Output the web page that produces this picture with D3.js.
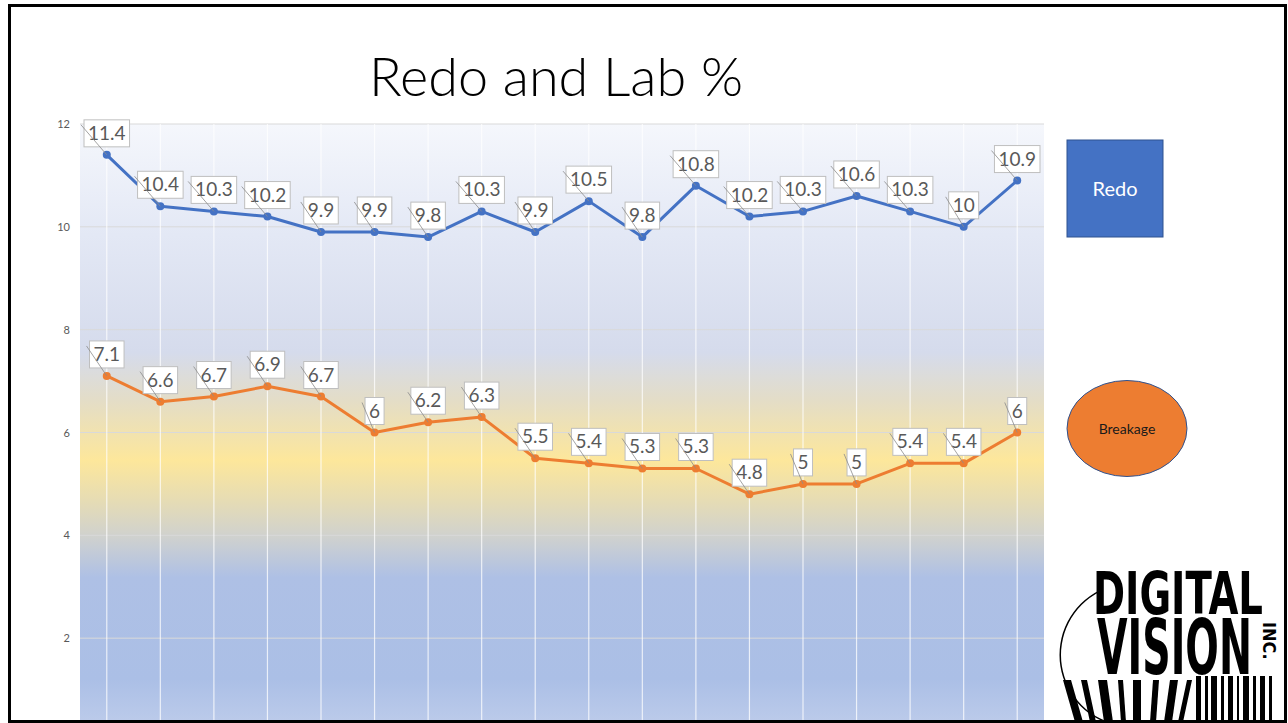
<!DOCTYPE html>
<html>
<head>
<meta charset="utf-8">
<script src="https://cdn.jsdelivr.net/npm/d3@7"></script>
<style>
  html, body { margin: 0; padding: 0; background: #fff; }
  svg { display: block; }
</style>
</head>
<body>
<div id="chart"></div>
<script>
// data
const categories = ['1', '2', '3', '4', '5', '6', '7', '8', '9', '10', '11', '12', '13', '14', '15', '16', '17', '18'];
const redo = [11.4, 10.4, 10.3, 10.2, 9.9, 9.9, 9.8, 10.3, 9.9, 10.5, 9.8, 10.8, 10.2, 10.3, 10.6, 10.3, 10, 10.9];
const breakage = [7.1, 6.6, 6.7, 6.9, 6.7, 6, 6.2, 6.3, 5.5, 5.4, 5.3, 5.3, 4.8, 5, 5, 5.4, 5.4, 6];
const yTicks = [2, 4, 6, 8, 10, 12];
const seriesNames = ['Redo', 'Breakage'];

const W = 1288, H = 723;
const plot = { left: 80, right: 1044, top: 124, bottom: 741 };

const svg = d3.select('#chart').append('svg')
  .attr('width', W).attr('height', H);

const x = d3.scalePoint()
  .domain(categories)
  .range([plot.left, plot.right])
  .padding(0.5);

const y = d3.scaleLinear()
  .domain([0, 12])
  .range([plot.bottom, plot.top]);

// background gradient of the plot area
const defs = svg.append('defs');
const grad = defs.append('linearGradient')
  .attr('id', 'bg').attr('x1', 0).attr('y1', 0).attr('x2', 0).attr('y2', 1);
[
  [0, '#f5f7fc'], [0.18, '#e3e8f5'], [0.37, '#d5dbec'], [0.45, '#e4ddc6'],
  [0.545, '#fde79b'], [0.61, '#e6dcb4'], [0.67, '#cfd1cf'], [0.735, '#aec0e5'],
  [0.9, '#abbfe6'], [1, '#c3d0ec']
].forEach(s => grad.append('stop').attr('offset', s[0]).attr('stop-color', s[1]));

svg.append('rect')
  .attr('x', plot.left).attr('y', plot.top)
  .attr('width', plot.right - plot.left).attr('height', plot.bottom - plot.top)
  .attr('fill', 'url(#bg)');

// gridlines
svg.append('g').selectAll('line')
  .data(yTicks)
  .enter().append('line')
  .attr('x1', plot.left).attr('x2', plot.right)
  .attr('y1', d => y(d)).attr('y2', d => y(d))
  .attr('stroke', '#d9d9d9').attr('stroke-width', 1);

svg.append('g').selectAll('line')
  .data(categories)
  .enter().append('line')
  .attr('x1', d => x(d)).attr('x2', d => x(d))
  .attr('y1', plot.top).attr('y2', plot.bottom)
  .attr('stroke', '#ffffff').attr('stroke-opacity', 0.75).attr('stroke-width', 1.2);

// y axis labels
const yAxis = svg.append('g')
  .attr('transform', `translate(${plot.left - 10},0)`)
  .call(d3.axisLeft(y).tickValues(yTicks).tickSize(0).tickPadding(0));
yAxis.select('.domain').remove();
yAxis.selectAll('text')
  .attr('fill', '#595959')
  .style('font-family', 'Lato, "Open Sans", sans-serif')
  .style('font-size', '11px');

// title
svg.append('text')
  .attr('x', 556).attr('y', 96)
  .attr('text-anchor', 'middle')
  .style('font-family', 'Lato, "Open Sans", sans-serif')
  .style('font-weight', 300)
  .style('font-size', '54px')
  .attr('fill', '#000')
  .text('Redo and Lab %');

const colors = ['#4472c4', '#ed7d31'];
const allSeries = [redo, breakage];

const line = d3.line()
  .x((d, i) => x(categories[i]))
  .y(d => y(d));

allSeries.forEach((vals, si) => {
  svg.append('path')
    .datum(vals)
    .attr('d', line)
    .attr('fill', 'none')
    .attr('stroke', colors[si])
    .attr('stroke-width', 3)
    .attr('stroke-linejoin', 'round');

  svg.append('g').selectAll('circle')
    .data(vals)
    .enter().append('circle')
    .attr('cx', (d, i) => x(categories[i]))
    .attr('cy', d => y(d))
    .attr('r', 4)
    .attr('fill', colors[si]);
});

// data labels: white box above each point, with a thin leader line
allSeries.forEach(vals => {
  const g = svg.append('g');
  vals.forEach((v, i) => {
    const px = x(categories[i]), py = y(v);
    const lg = g.append('g');
    const box = lg.append('rect');
    const t = lg.append('text')
      .attr('x', px).attr('y', py - 15)
      .attr('text-anchor', 'middle')
      .style('font-family', 'Lato, "Open Sans", sans-serif')
      .style('font-size', '19px')
      .attr('fill', '#595959')
      .text(v);
    const tw = t.node().getComputedTextLength();
    const bw = tw + 8, bh = 27;
    const bx = px - bw / 2, by = py - 8 - bh;
    box.attr('x', bx).attr('y', by).attr('width', bw).attr('height', bh)
      .attr('fill', '#fff').attr('stroke', '#bfbfbf').attr('stroke-width', 1);
    lg.append('line')
      .attr('x1', bx - 3).attr('y1', by + 5)
      .attr('x2', px).attr('y2', py)
      .attr('stroke', '#8c8c8c').attr('stroke-width', 0.8);
  });
});

// legend shapes
const leg = svg.append('g');
leg.append('rect')
  .attr('x', 1067).attr('y', 140).attr('width', 96).attr('height', 97)
  .attr('fill', colors[0]).attr('stroke', '#2f528f').attr('stroke-width', 1);
leg.append('text')
  .attr('x', 1115).attr('y', 196).attr('text-anchor', 'middle')
  .style('font-family', 'Lato, "Open Sans", sans-serif').style('font-size', '20px')
  .attr('fill', '#fff').text(seriesNames[0]);
leg.append('ellipse')
  .attr('cx', 1127).attr('cy', 428.5).attr('rx', 60).attr('ry', 48)
  .attr('fill', colors[1]).attr('stroke', '#2f528f').attr('stroke-width', 1);
leg.append('text')
  .attr('x', 1127).attr('y', 434).attr('text-anchor', 'middle')
  .style('font-family', 'Lato, "Open Sans", sans-serif').style('font-size', '14px')
  .attr('fill', '#1a1a1a').text(seriesNames[1]);

// logo (rough)
const logo = svg.append('g');
logo.append('path')
  .attr('d', d3.arc()({ innerRadius: 71, outerRadius: 72.5, startAngle: -Math.PI * 0.95, endAngle: -Math.PI * 0.15 }))
  .attr('transform', 'translate(1132,655)')
  .attr('fill', '#000');

// squeeze a word to a given width with a horizontal scale
function logoWord(txt, x0, y0, size, width) {
  const t = logo.append('text')
    .style('font-family', '"Liberation Sans Narrow", "DejaVu Sans Condensed", sans-serif')
    .style('font-weight', 'bold')
    .style('font-size', size + 'px')
    .attr('fill', '#000').text(txt);
  const sx = width / t.node().getComputedTextLength();
  t.attr('transform', `translate(${x0},${y0}) scale(${sx},1)`);
  return t;
}
logoWord('DIGITAL', 1093, 614, 58, 170);
logoWord('VISION', 1097, 674, 76, 155);
logo.append('text')
  .attr('transform', 'translate(1263,622) rotate(90)')
  .style('font-family', '"Liberation Sans Narrow", "DejaVu Sans Condensed", sans-serif')
  .style('font-weight', 'bold')
  .style('font-size', '18px').attr('fill', '#000').text('INC.');
// barcode bars
const bars = [[1196, 5], [1205, 3], [1211, 6], [1221, 3], [1228, 5], [1237, 2], [1243, 6], [1253, 3], [1260, 5], [1269, 3]];
bars.forEach(b => logo.append('rect').attr('x', b[0]).attr('y', 676).attr('width', b[1]).attr('height', 46).attr('fill', '#000'));
const slant = [[1075, 8], [1090, 6], [1104, 9], [1121, 5], [1133, 8], [1150, 6], [1164, 8], [1178, 5]];
slant.forEach((b, i) => logo.append('path')
  .attr('d', `M${b[0] + (i - 4) * 3},680 L${b[0] + (i - 4) * 3 + b[1]},680 L${b[0] + b[1]},722 L${b[0]},722 Z`)
  .attr('fill', '#000'));

// slide frame
svg.append('rect')
  .attr('x', 9.5).attr('y', 5.5).attr('width', 1276).attr('height', 716)
  .attr('fill', 'none').attr('stroke', '#000').attr('stroke-width', 3);
</script>
</body>
</html>
